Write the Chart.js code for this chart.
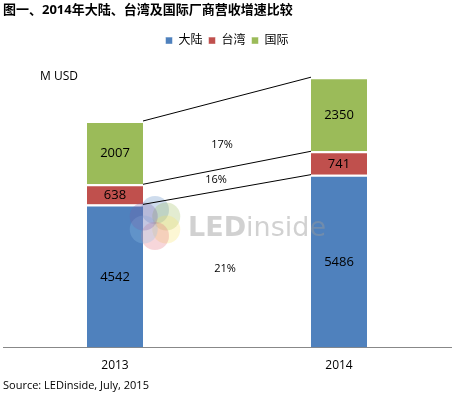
<!DOCTYPE html>
<html>
<head>
<meta charset="utf-8">
<script src="https://cdn.jsdelivr.net/npm/chart.js@4/dist/chart.umd.min.js"></script>
<style>
  html, body { margin: 0; padding: 0; background: #fff; }
  #wrap { position: relative; width: 456px; height: 399px; }
</style>
</head>
<body>
<div id="wrap"><canvas id="revenueChart"></canvas></div>
<script>
// chart data
var years = ['2013', '2014'];
var seriesNames = ['大陆', '台湾', '国际'];
var mainland = [4542, 5486];
var taiwan = [638, 741];
var international = [2007, 2350];

var titleText = '图一、2014年大陆、台湾及国际厂商营收增速比较';
var unitText = 'M USD';
var sourceText = 'Source: LEDinside, July, 2015';

var colors = ['#4F81BD', '#C0504D', '#9BBB59'];
var fontFamily = '"Open Sans", "Noto Sans CJK SC", sans-serif';

Chart.defaults.font.family = fontFamily;
Chart.defaults.color = '#000';

//draws values, connector lines, growth labels, unit and source text
var extrasPlugin = {
	id: 'extras',
	afterDatasetsDraw: function(chart) {
		var ctx = chart.ctx;
		var metas = [0, 1, 2].map(function(i) { return chart.getDatasetMeta(i); });

		ctx.save();

		// watermark
		ctx.globalAlpha = 0.28;
		var cx = 155, cy = 223;
		var petal = ['#4F81BD', '#9BBB59', '#F7E463', '#E46C7A', '#8FC3E8', '#7B5EA7'];
		for (var p = 0; p < 6; p++) {
			var a = p * Math.PI / 3 - Math.PI / 2;
			ctx.beginPath();
			ctx.fillStyle = petal[p];
			ctx.arc(cx + Math.cos(a) * 13, cy + Math.sin(a) * 13, 14, 0, Math.PI * 2);
			ctx.fill();
		}
		ctx.globalAlpha = 0.45;
		ctx.fillStyle = '#9a9a9a';
		ctx.textAlign = 'left';
		ctx.textBaseline = 'alphabetic';
		ctx.font = '600 27px "DejaVu Sans", sans-serif';
		ctx.fillText('LED', 188, 236);
		var w = ctx.measureText('LED').width;
		ctx.font = '27px "DejaVu Sans", sans-serif';
		ctx.fillText('inside', 188 + w, 236);
		ctx.globalAlpha = 1;

		// value labels inside bars
		ctx.fillStyle = '#000';
		ctx.font = '13px ' + fontFamily;
		ctx.textAlign = 'center';
		ctx.textBaseline = 'middle';
		metas.forEach(function(meta, di) {
			meta.data.forEach(function(bar, i) {
				var v = chart.data.datasets[di].data[i];
				ctx.fillText(String(v), bar.x, (bar.y + bar.base) / 2 + 1);
			});
		});

		// connector lines between segment tops
		ctx.strokeStyle = '#000';
		ctx.lineWidth = 1;
		metas.forEach(function(meta) {
			var b0 = meta.data[0], b1 = meta.data[1];
			ctx.beginPath();
			ctx.moveTo(b0.x + b0.width / 2, b0.y);
			ctx.lineTo(b1.x - b1.width / 2, b1.y);
			ctx.stroke();
		});

		// growth labels
		ctx.font = '11px ' + fontFamily;
		var labelShift = [0, 1, 11];
		var labelDx = [-2, -11, -5];
		metas.forEach(function(meta, di) {
			var d = chart.data.datasets[di].data;
			var g = Math.round((d[1] / d[0] - 1) * 100) + '%';
			var b0 = meta.data[0], b1 = meta.data[1];
			var x = (b0.x + b1.x) / 2 + labelDx[di];
			var y = ((b0.y + b0.base) / 2 + (b1.y + b1.base) / 2) / 2 + labelShift[di];
			ctx.fillText(g, x, y);
		});

		// unit and source
		ctx.textAlign = 'left';
		ctx.font = '12px ' + fontFamily;
		ctx.fillText(unitText, 40, 77);
		ctx.font = '11px ' + fontFamily;
		ctx.fillText(sourceText, 3, 386);

		ctx.restore();
	}
};

var datasets = [mainland, taiwan, international].map(function(vals, i) {
	return {
		label: seriesNames[i],
		data: vals,
		backgroundColor: colors[i],
		borderColor: '#fff',
		borderWidth: { top: 2, bottom: 0, left: 0, right: 0 },
		borderSkipped: false
	};
});

var myChart = new Chart(document.getElementById('revenueChart'), {
	type: 'bar',
	data: { labels: years, datasets: datasets },
	options: {
		responsive: true,
		maintainAspectRatio: false,
		animation: false,
		events: [],
		layout: { padding: { left: 3, right: 5, top: 2, bottom: 23 } },
		barPercentage: 0.25,
		categoryPercentage: 1,
		plugins: {
			title: {
				display: true,
				text: titleText,
				align: 'start',
				font: { size: 13, weight: 'bold' },
				padding: { top: 0, bottom: 11 }
			},
			legend: {
				display: true,
				labels: {
					boxWidth: 7,
					boxHeight: 7,
					padding: 6,
					font: { size: 12 }
				}
			},
			tooltip: { enabled: false }
		},
		scales: {
			x: {
				stacked: true,
				grid: { display: false },
				border: { display: true, color: '#888', width: 1 },
				ticks: { padding: 3, font: { size: 12 } }
			},
			y: {
				stacked: true,
				display: false,
				min: 0,
				max: 9230
			}
		}
	},
	plugins: [extrasPlugin]
});
</script>
</body>
</html>
